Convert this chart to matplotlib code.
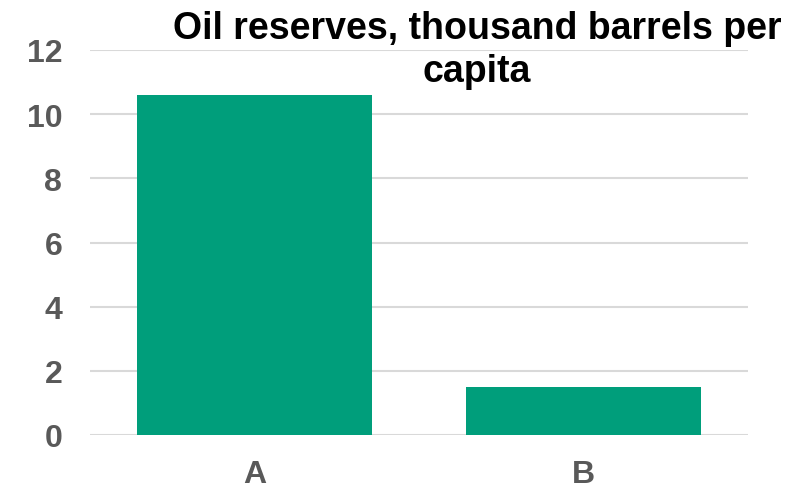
import matplotlib
matplotlib.use("Agg")
import matplotlib.pyplot as plt

categories = ["A", "B"]
values = [10.6, 1.5]
yticks = [0, 2, 4, 6, 8, 10, 12]
title = "Oil reserves, thousand barrels per\ncapita"

plt.rcParams["font.family"] = ["Liberation Sans", "DejaVu Sans"]

fig = plt.figure(figsize=(8.06, 4.89), dpi=100)
ax = fig.add_axes([90 / 806, 1 - 436 / 489, (748 - 90) / 806, (436 - 51) / 489])

x = list(range(len(categories)))
ax.bar(x, values, width=0.717, color="#009E7B", zorder=3)

ax.set_xlim(-0.5, len(categories) - 0.5)
ax.set_ylim(0, 12)
ax.set_yticks(yticks)
ax.set_yticklabels([str(t) for t in yticks])
ax.set_xticks(x)
ax.set_xticklabels(categories)

ax.grid(axis="y", color="#d9d9d9", linewidth=1.5, zorder=0)
ax.set_axisbelow(True)
for s in ax.spines.values():
    s.set_visible(False)
ax.tick_params(axis="both", length=0, colors="#595959", labelsize=23)
ax.tick_params(axis="y", pad=20)
ax.tick_params(axis="x", pad=17)
for lab in ax.get_xticklabels() + ax.get_yticklabels():
    lab.set_fontweight("bold")

fig.text(477 / 806, 1 - 82 / 489, title, ha="center", va="baseline",
         fontsize=27, fontweight="bold", color="black", linespacing=1.25)

fig.savefig("out.png", dpi=100)
